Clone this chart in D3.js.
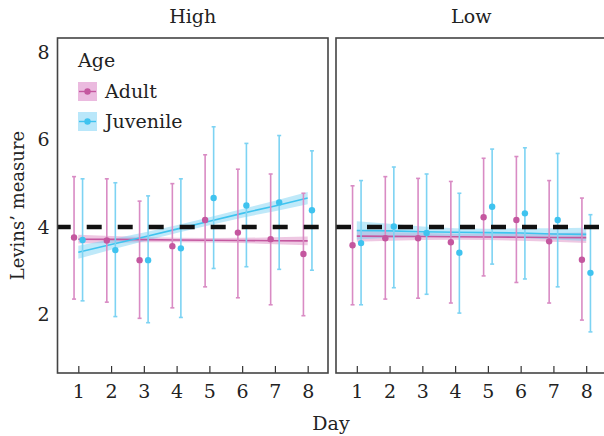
<!DOCTYPE html>
<html lang="en">
<head>
    <meta charset="UTF-8">
    <title>Levins' measure by day</title>
    <script src="https://d3js.org/d3.v7.min.js"></script>
    <style>
        body {
            margin: 0;
            padding: 0;
            background: #fff;
        }
        svg text {
            font-family: "DejaVu Serif", serif;
            fill: #222;
        }
    </style>
</head>
<body>
    <div id="chart"></div>

    <script>
        // data
        const days = [1, 2, 3, 4, 5, 6, 7, 8];
        const conditions = ['High', 'Low'];
        const ageGroups = ['Adult', 'Juvenile'];
        const yTicks = [2, 4, 6, 8];
        const referenceLevel = 4;

        const highAdultMean  = [3.76, 3.69, 3.24, 3.56, 4.16, 3.87, 3.72, 3.38];
        const highAdultLower = [2.35, 2.28, 1.91, 2.15, 2.63, 2.38, 2.22, 1.97];
        const highAdultUpper = [5.15, 5.10, 4.59, 4.99, 5.65, 5.32, 5.21, 4.77];

        const highJuvMean  = [3.70, 3.47, 3.24, 3.51, 4.66, 4.49, 4.56, 4.38];
        const highJuvLower = [2.31, 1.95, 1.81, 1.93, 3.05, 3.09, 3.03, 3.01];
        const highJuvUpper = [5.10, 5.01, 4.71, 5.10, 6.29, 5.91, 6.09, 5.74];

        const lowAdultMean  = [3.58, 3.74, 3.74, 3.65, 4.22, 4.16, 3.67, 3.25];
        const lowAdultLower = [2.22, 2.35, 2.37, 2.26, 2.88, 2.73, 2.26, 1.87];
        const lowAdultUpper = [4.94, 5.15, 5.11, 5.04, 5.57, 5.61, 5.06, 4.66];

        const lowJuvMean  = [3.63, 4.01, 3.86, 3.41, 4.46, 4.31, 4.16, 2.95];
        const lowJuvLower = [2.22, 2.61, 2.46, 2.03, 3.15, 2.81, 2.63, 1.60];
        const lowJuvUpper = [5.06, 5.37, 5.21, 4.77, 5.78, 5.81, 5.68, 4.28];

        // fitted trend lines and their confidence half-widths
        const highAdultFit = [3.72, 3.715, 3.71, 3.70, 3.695, 3.69, 3.685, 3.68];
        const highAdultCI  = [0.10, 0.08, 0.06, 0.05, 0.05, 0.06, 0.08, 0.10];
        const highJuvFit   = [3.42, 3.60, 3.77, 3.95, 4.13, 4.31, 4.48, 4.66];
        const highJuvCI    = [0.15, 0.12, 0.10, 0.09, 0.09, 0.10, 0.12, 0.14];
        const lowAdultFit  = [3.79, 3.785, 3.78, 3.775, 3.77, 3.765, 3.76, 3.755];
        const lowAdultCI   = [0.13, 0.10, 0.08, 0.07, 0.07, 0.08, 0.10, 0.12];
        const lowJuvFit    = [3.92, 3.91, 3.89, 3.88, 3.87, 3.86, 3.84, 3.83];
        const lowJuvCI     = [0.21, 0.16, 0.12, 0.09, 0.09, 0.11, 0.13, 0.15];

        const panelData = {
            High: {
                Adult: { mean: highAdultMean, lower: highAdultLower, upper: highAdultUpper, fit: highAdultFit, ci: highAdultCI },
                Juvenile: { mean: highJuvMean, lower: highJuvLower, upper: highJuvUpper, fit: highJuvFit, ci: highJuvCI }
            },
            Low: {
                Adult: { mean: lowAdultMean, lower: lowAdultLower, upper: lowAdultUpper, fit: lowAdultFit, ci: lowAdultCI },
                Juvenile: { mean: lowJuvMean, lower: lowJuvLower, upper: lowJuvUpper, fit: lowJuvFit, ci: lowJuvCI }
            }
        };

        const style = {
            Adult: { point: '#c4579f', bar: '#d98bc4', ribbon: 'rgba(214,122,186,0.42)', key: '#ebbadf', dodge: -0.13 },
            Juvenile: { point: '#3fc3ef', bar: '#7dd3f3', ribbon: 'rgba(112,206,242,0.45)', key: '#b9e7fa', dodge: 0.13 }
        };

        const width = 604, height = 436;
        const panelTop = 38, panelBottom = 373;
        const panels = [
            { name: conditions[0], left: 57.5, right: 328 },
            { name: conditions[1], left: 336, right: 606.5 }
        ];

        const svg = d3.select('#chart')
            .append('svg')
            .attr('width', width)
            .attr('height', height);

        const y = d3.scaleLinear().domain([0.66, 8.32]).range([panelBottom, panelTop]);

        panels.forEach((p, i) => {
            const x = d3.scaleLinear().domain([0.365, 8.62]).range([p.left, p.right]);
            const g = svg.append('g');
            const data = panelData[p.name];

            // strip title
            svg.append('text')
                .attr('x', (p.left + p.right) / 2)
                .attr('y', 23)
                .attr('text-anchor', 'middle')
                .attr('font-size', 19)
                .text(p.name);

            // confidence ribbons
            ageGroups.forEach(age => {
                const d = data[age];
                const area = d3.area()
                    .x((v, j) => x(days[j]))
                    .y0((v, j) => y(d.fit[j] - d.ci[j]))
                    .y1((v, j) => y(d.fit[j] + d.ci[j]));
                g.append('path')
                    .datum(days)
                    .attr('d', area)
                    .attr('fill', style[age].ribbon);
            });

            // trend lines
            ageGroups.forEach(age => {
                const d = data[age];
                const line = d3.line()
                    .x((v, j) => x(days[j]))
                    .y((v, j) => y(d.fit[j]));
                g.append('path')
                    .datum(days)
                    .attr('d', line)
                    .attr('fill', 'none')
                    .attr('stroke', style[age].point)
                    .attr('stroke-width', 1.6);
            });

            // error bars and means
            ageGroups.forEach(age => {
                const d = data[age];
                const s = style[age];
                const bars = g.append('g')
                    .attr('stroke', s.bar)
                    .attr('stroke-width', 1.6);
                days.forEach((day, j) => {
                    const cx = x(day + s.dodge);
                    bars.append('line')
                        .attr('x1', cx).attr('x2', cx)
                        .attr('y1', y(d.lower[j])).attr('y2', y(d.upper[j]));
                    bars.append('line')
                        .attr('x1', cx - 2).attr('x2', cx + 2)
                        .attr('y1', y(d.lower[j])).attr('y2', y(d.lower[j]));
                    bars.append('line')
                        .attr('x1', cx - 2).attr('x2', cx + 2)
                        .attr('y1', y(d.upper[j])).attr('y2', y(d.upper[j]));
                });
                g.append('g')
                    .selectAll('circle')
                    .data(days)
                    .enter().append('circle')
                    .attr('cx', day => x(day + s.dodge))
                    .attr('cy', (day, j) => y(d.mean[j]))
                    .attr('r', 3.2)
                    .attr('fill', s.point);
            });

            // dashed reference line
            g.append('line')
                .attr('x1', p.left).attr('x2', p.right)
                .attr('y1', y(referenceLevel)).attr('y2', y(referenceLevel))
                .attr('stroke', '#111')
                .attr('stroke-width', 4.5)
                .attr('stroke-dasharray', '15,16')
                .attr('stroke-dashoffset', i === 0 ? 1.8 : 0);

            // x axis with inward ticks
            const xAxis = svg.append('g')
                .attr('transform', `translate(0,${panelBottom})`)
                .call(d3.axisBottom(x).tickValues(days).tickFormat(d3.format('d'))
                    .tickSizeInner(-7).tickSizeOuter(0).tickPadding(12));
            xAxis.select('.domain').remove();
            xAxis.selectAll('line').attr('stroke', '#333').attr('stroke-width', 1.2);
            xAxis.selectAll('text').attr('font-size', 19).attr('font-family', '"DejaVu Serif", serif').attr('fill', '#222');

            if (i === 0) {
                const yAxis = svg.append('g')
                    .attr('transform', `translate(${p.left},0)`)
                    .call(d3.axisLeft(y).tickValues(yTicks).tickSize(0).tickPadding(8));
                yAxis.select('.domain').remove();
                yAxis.selectAll('text').attr('font-size', 19).attr('font-family', '"DejaVu Serif", serif').attr('fill', '#222');
            }

            // panel border
            svg.append('rect')
                .attr('x', p.left).attr('y', panelTop)
                .attr('width', p.right - p.left).attr('height', panelBottom - panelTop)
                .attr('fill', 'none')
                .attr('stroke', '#444')
                .attr('stroke-width', 1.6);
        });

        // axis titles
        svg.append('text')
            .attr('x', 331)
            .attr('y', 430)
            .attr('text-anchor', 'middle')
            .attr('font-size', 19)
            .text('Day');

        svg.append('text')
            .attr('transform', `translate(24,${(panelTop + panelBottom) / 2}) rotate(-90)`)
            .attr('text-anchor', 'middle')
            .attr('font-size', 18)
            .text('Levins’ measure');

        // legend
        const legend = svg.append('g').attr('transform', 'translate(78,0)');
        legend.append('text')
            .attr('x', 0).attr('y', 67)
            .attr('font-size', 19)
            .text('Age');

        ageGroups.forEach((age, k) => {
            const ky = 82 + k * 30;
            const s = style[age];
            legend.append('rect')
                .attr('x', 0).attr('y', ky)
                .attr('width', 19).attr('height', 19)
                .attr('fill', s.key);
            legend.append('line')
                .attr('x1', 1).attr('x2', 18)
                .attr('y1', ky + 9.5).attr('y2', ky + 9.5)
                .attr('stroke', s.point)
                .attr('stroke-width', 1.4);
            legend.append('circle')
                .attr('cx', 9.5).attr('cy', ky + 9.5)
                .attr('r', 3.2)
                .attr('fill', s.point);
            legend.append('text')
                .attr('x', 27).attr('y', ky + 16)
                .attr('font-size', 19)
                .text(age);
        });
    </script>
</body>
</html>
